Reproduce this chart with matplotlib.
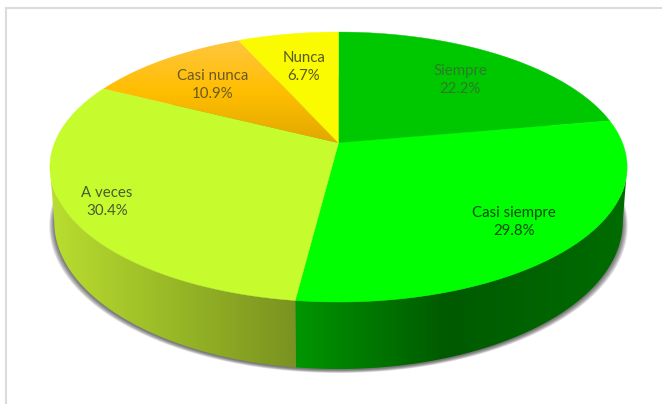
import numpy as np
import matplotlib
matplotlib.use("Agg")
import matplotlib.pyplot as plt
from matplotlib.patches import Polygon
from matplotlib.colors import LinearSegmentedColormap

plt.rcParams["font.family"] = ["Lato", "DejaVu Sans"]

labels = ["Siempre", "Casi siempre", "A veces", "Casi nunca", "Nunca"]
percents = [22.2, 29.8, 30.4, 10.9, 6.7]
top_colors = ["#00c800", "#00ff00", "#c6fc2e", None, "#fafa00"]
label_colors = ["#2f7a2a", "#0b4a0b", "#4a5a30", "#6a5a20", "#5a5a20"]
label_pos = [(460, 80), (514, 222), (107, 202), (213, 85), (304, 67)]

# perspective of the disc: apex of the slices and scale of top and bottom rims
CX = 338.5
TOP_Y, TOP_A, TOP_S = 143.0, 130.7, 284.0
BOT_Y, BOT_A, BOT_S = 195.8, 142.4, 279.7
PERSP = 0.178
# angle where the rim is widest, the wall ends there
SIDE = np.arccos(-PERSP)


def rim(theta, y0, a, s):
    w = 1 + PERSP * np.cos(theta)
    return CX + s * np.sin(theta) / w, y0 - a * np.cos(theta) / w


def top_rim(theta):
    return rim(theta, TOP_Y, TOP_A, TOP_S)


def bottom_rim(theta):
    return rim(theta, BOT_Y, BOT_A, BOT_S)


def gradient_fill(ax, path_xy, stops, horizontal=True, extent=None, zorder=2):
    poly = Polygon(path_xy, closed=True, fc="none", ec="none", transform=ax.transData)
    ax.add_patch(poly)
    cmap = LinearSegmentedColormap.from_list("g", stops)
    g = np.linspace(0, 1, 256)
    g = g.reshape(1, -1) if horizontal else g.reshape(-1, 1)
    im = ax.imshow(g, cmap=cmap, extent=extent, aspect="auto", zorder=zorder,
                   interpolation="bilinear")
    im.set_clip_path(poly)


fig = plt.figure(figsize=(6.62, 4.04), dpi=100)
ax = fig.add_axes([0, 0, 1, 1])
ax.set_xlim(0, 662)
ax.set_ylim(404, 0)
ax.axis("off")

# chart frame
ax.plot([6, 6], [404, 8], color="#dcdcdc", lw=1.5, zorder=1)
ax.plot([6, 662], [8, 8], color="#dcdcdc", lw=1.5, zorder=1)

edges = np.concatenate([[0], np.cumsum(percents)]) / np.sum(percents) * 2 * np.pi

# soft shadow under the disc
t = np.linspace(0, 2 * np.pi, 400)
bx, by = bottom_rim(t)
for grow in np.linspace(5, 0, 12):
    sx = CX + (bx - CX) * (1 + grow / 280)
    sy = by + grow * 0.6 + 1
    ax.fill(sx, sy, color="#303030", alpha=0.08, lw=0, zorder=1.5)

# side wall, the front half only
wall_spans = {
    1: (SIDE, edges[2]),
    2: (edges[2], 2 * np.pi - SIDE),
}
wall_stops = {
    1: [(0, "#009600"), (0.45, "#005a00"), (1, "#006c00")],
    2: [(0, "#bade30"), (0.5, "#98b826"), (1, "#7a9220")],
}
for i in (1, 2):
    t = np.linspace(wall_spans[i][0], wall_spans[i][1], 300)
    tx, ty = top_rim(t)
    bx, by = bottom_rim(t)
    xy = np.column_stack([np.r_[tx, bx[::-1]], np.r_[ty, by[::-1]]])
    x0, x1 = xy[:, 0].min(), xy[:, 0].max()
    gradient_fill(ax, xy, wall_stops[i], extent=(x0, x1, 404, 0), zorder=2)

# top faces of the slices
for i, color in enumerate(top_colors):
    t = np.linspace(edges[i], edges[i + 1], 200)
    tx, ty = top_rim(t)
    xy = np.column_stack([np.r_[CX, tx], np.r_[TOP_Y, ty]])
    if color is None:
        gradient_fill(ax, xy, [(0, "#ffc640"), (0.5, "#ffbe00"), (1, "#e2a800")],
                      horizontal=False, extent=(0, 662, TOP_Y, xy[:, 1].min()), zorder=3)
    else:
        ax.add_patch(Polygon(xy, closed=True, fc=color, ec=color, lw=0.3, zorder=3))

for name, pct, (x, y), c in zip(labels, percents, label_pos, label_colors):
    ax.text(x, y, f"{name}\n{pct:.1f}%", ha="center", va="center", fontsize=10.8,
            color=c, linespacing=1.4, zorder=5)

ax.set_xlim(0, 662)
ax.set_ylim(404, 0)
fig.savefig("out.png", dpi=100)
